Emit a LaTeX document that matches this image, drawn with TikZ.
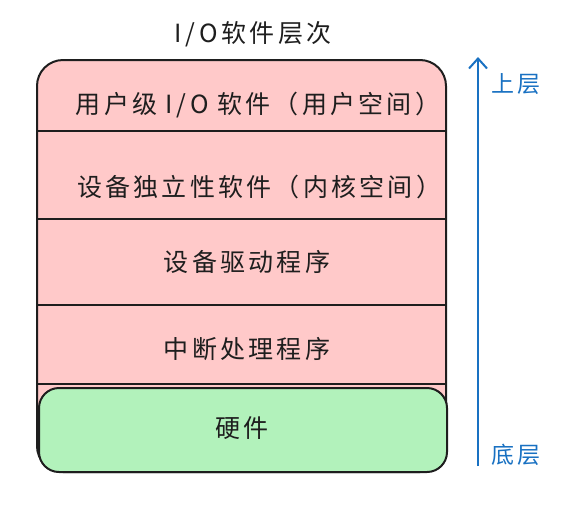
\documentclass[tikz,border=0pt]{standalone}
\usepackage{fontspec}
\setmainfont{Noto Sans CJK SC}
\usetikzlibrary{arrows.meta}
\definecolor{strokec}{HTML}{1E1E1E}
\definecolor{pinkc}{HTML}{FFC9C9}
\definecolor{greenc}{HTML}{B2F2BB}
\definecolor{bluec}{HTML}{1971C2}
\tikzset{
  rowtext/.style={text=strokec, font=\fontsize{25}{30}\selectfont\addfontfeature{LetterSpace=13}, anchor=center, inner sep=0pt},
  bluetext/.style={text=bluec, font=\fontsize{23}{26}\selectfont\addfontfeature{LetterSpace=10}, anchor=center, inner sep=0pt},
  boxline/.style={draw=strokec, line width=2pt},
}
\begin{document}
\begin{tikzpicture}[x=1pt,y=-1pt]
\useasboundingbox (0,0) rectangle (580,509);
% outer stack
\draw[boxline, fill=pinkc, rounded corners=26pt] (37,60) rectangle (446,472);
\draw[boxline] (37,131) -- (446,131);
\draw[boxline] (37,219) -- (446,219);
\draw[boxline] (37,305) -- (446,305);
\draw[boxline] (37,384) -- (446,384);
% hardware
\draw[boxline, fill=greenc, rounded corners=20pt] (39,388) rectangle (447,472);
% texts
\node[rowtext] (title) at (253,34) {I\,/\,O软件层次};
\node[rowtext] (r1) at (258,105) {用户级\hspace{8pt}I\,/\,O\hspace{8pt}软件（用户空间）};
\node[rowtext] (r2) at (259,187) {设备独立性软件（内核空间）};
\node[rowtext] (r3) at (247,262) {设备驱动程序};
\node[rowtext] (r4) at (247,349) {中断处理程序};
\node[rowtext] (hw) at (242,428) {硬件};
% arrow
\coordinate (abot) at (478,466);
\coordinate (atop) at (478,57);
\draw[bluec, line width=2pt, -{Straight Barb[length=10pt,width=18pt,line width=2pt]}] (abot) -- (atop);
\node[bluetext] (up) at (516,84) {上层};
\node[bluetext] (down) at (516,455) {底层};
\end{tikzpicture}
\end{document}
